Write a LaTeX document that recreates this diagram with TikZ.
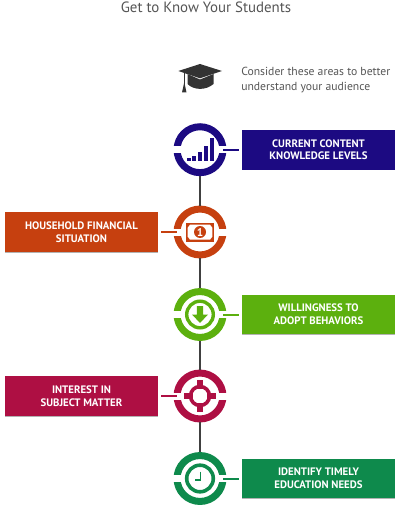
\documentclass[tikz,border=0pt]{standalone}
\usepackage{fontspec}
\setmainfont{PT Sans}
\usetikzlibrary{positioning,shadows}
\definecolor{navy}{HTML}{1C0A82}
\definecolor{rust}{HTML}{C6400F}
\definecolor{leaf}{HTML}{5CB00E}
\definecolor{crimson}{HTML}{AE0F43}
\definecolor{pine}{HTML}{0E8A4C}
\definecolor{spine}{HTML}{404040}
\definecolor{capgrey}{HTML}{333333}
\definecolor{greytext}{HTML}{555555}
\tikzset{
  ring/.style={circle,draw=#1,line width=0.175cm,minimum size=1.1475cm,inner sep=0pt},
  topicbox/.style={rectangle,fill=#1,text=white,align=center,inner sep=0pt,minimum width=3.825cm,minimum height=0.99cm,
    font=\fontsize{7.7}{9}\selectfont\bfseries,copy shadow={shadow xshift=0pt,shadow yshift=-0.6pt,fill=black,opacity=0.3,draw=none}},
  stub/.style={#1,line width=0.05cm,shorten <=2pt,shorten >=-2.7pt},
  spineline/.style={spine,line width=0.05cm},
  gapband/.style={white}
}
\begin{document}
\begin{tikzpicture}[x=0.025cm,y=-0.025cm]
  \useasboundingbox (0,0) rectangle (400,505);
  \node[text=greytext,font=\fontsize{10.6}{12}\selectfont,inner sep=0pt] (title) at (206,7) {Get to Know Your Students};
  \node[text=greytext,font=\fontsize{8.3}{10.7}\selectfont,align=left,anchor=west,inner sep=0pt] (intro) at (241,80) {Consider these areas to better\\understand your audience};
  % cap
  \fill[capgrey] (187.5,74) -- (200,79.5) -- (213.5,74) -- (213.5,84) .. controls (206,90.5) and (194,90.5) .. (187.5,84) -- cycle;
  \fill[capgrey] (178.3,71) -- (200,64) -- (222,71) -- (200,78.3) -- cycle;
  \fill[capgrey] (183.6,72) rectangle (185,84);
  \fill[capgrey] (184.3,82) -- (186.5,92.5) -- (182,92.5) -- cycle;

  \node[ring=navy] (ringa) at (200,149.7) {};
  \node[ring=rust] (ringb) at (200,232) {};
  \node[ring=leaf] (ringc) at (200,314.5) {};
  \node[ring=crimson] (ringd) at (200,396) {};
  \node[ring=pine] (ringe) at (200,478.5) {};

  \draw[spineline] (ringa) -- (ringb);
  \draw[spineline] (ringb) -- (ringc);
  \draw[spineline] (ringc) -- (ringd);
  \draw[spineline] (ringd) -- (ringe);

  \fill[gapband] (172,146.2) rectangle (228,153.2);
  \fill[gapband] (172,228.5) rectangle (228,235.5);
  \fill[gapband] (172,311) rectangle (228,318);
  \fill[gapband] (172,392.5) rectangle (228,399.5);
  \fill[gapband] (172,475) rectangle (228,482);

  \node[topicbox=navy] (boxa) at (318.5,149.7) {CURRENT CONTENT\\KNOWLEDGE LEVELS};
  \node[topicbox=rust] (boxb) at (81.5,232) {HOUSEHOLD FINANCIAL\\SITUATION};
  \node[topicbox=leaf] (boxc) at (318.5,314.5) {WILLINGNESS TO\\ADOPT BEHAVIORS};
  \node[topicbox=crimson] (boxd) at (81.5,396) {INTEREST IN\\SUBJECT MATTER};
  \node[topicbox=pine] (boxe) at (318.5,478.5) {IDENTIFY TIMELY\\EDUCATION NEEDS};

  \draw[stub=navy] (boxa) -- (ringa);
  \draw[stub=rust] (boxb) -- (ringb);
  \draw[stub=leaf] (boxc) -- (ringc);
  \draw[stub=crimson] (boxd) -- (ringd);
  \draw[stub=pine] (boxe) -- (ringe);

  % bars
  \fill[navy] (186.5,157.7) rectangle (190.5,161);
  \fill[navy] (192.3,156.3) rectangle (196.3,161);
  \fill[navy] (198,151.7) rectangle (202,161);
  \fill[navy] (203.8,146) rectangle (207.8,161);
  \fill[navy] (209.6,138) rectangle (214,161);

  % banknote
  \fill[rust] (185.7,222.7) rectangle (214.3,241.7);
  \fill[white] (190,224.7) -- (210,224.7) -- (212.3,227.7) -- (212.3,236.7) -- (210,239.7) -- (190,239.7) -- (187.7,236.7) -- (187.7,227.7) -- cycle;
  \fill[rust] (200,232) circle (6);
  \node[text=white,font=\fontsize{8}{8}\selectfont\bfseries,inner sep=0pt] (coin) at (200,232) {1};

  % arrow in circle
  \draw[leaf,line width=0.085cm] (200,314.5) circle (13.3);
  \fill[leaf] (196.8,306) -- (203.2,306) -- (203.2,314.5) -- (208,314.5) -- (200,323) -- (192,314.5) -- (196.8,314.5) -- cycle;

  % target
  \draw[crimson,line width=0.09cm] (200,396) circle (9.5);
  \fill[crimson] (197,380) rectangle (203,389);
  \fill[crimson] (197,403) rectangle (203,412);
  \fill[crimson] (184,393) rectangle (193,399);
  \fill[crimson] (207,393) rectangle (216,399);

  % clock
  \draw[pine,line width=0.09cm] (200,478.5) circle (13.3);
  \draw[pine,line width=0.045cm] (200.5,471.5) -- (200.5,480.3) -- (195,480.3);
\end{tikzpicture}
\end{document}
